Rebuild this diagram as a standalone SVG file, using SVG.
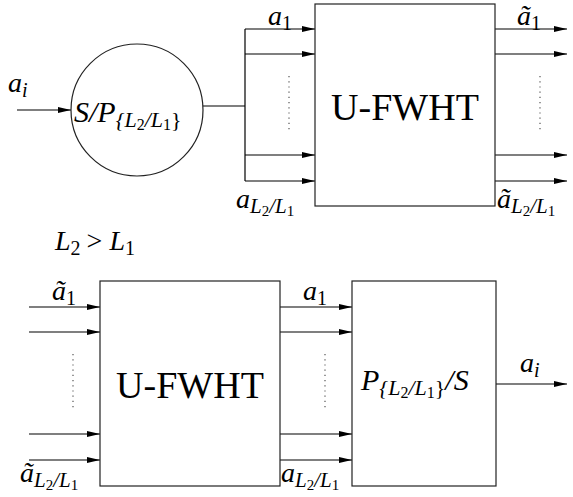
<svg xmlns="http://www.w3.org/2000/svg" width="573" height="497" viewBox="0 0 573 497">
<defs>
<marker id="ah" viewBox="0 0 13 6" refX="13" refY="3" markerWidth="13" markerHeight="6" markerUnits="userSpaceOnUse" orient="auto">
<path d="M0,0 L13,3 L0,6 z" fill="#000" stroke="none"/>
</marker>
</defs>
<g id="connectors" stroke="#000" stroke-width="1.2" fill="none">
<g id="arrows" marker-end="url(#ah)">
<line x1="17" y1="110" x2="71" y2="110"/>
<line x1="245" y1="29" x2="315" y2="29"/>
<line x1="245" y1="54" x2="315" y2="54"/>
<line x1="245" y1="155" x2="315" y2="155"/>
<line x1="245" y1="181" x2="315" y2="181"/>
<line x1="495" y1="29" x2="567" y2="29"/>
<line x1="495" y1="54" x2="567" y2="54"/>
<line x1="495" y1="155" x2="567" y2="155"/>
<line x1="495" y1="181" x2="567" y2="181"/>
<line x1="29" y1="307" x2="100" y2="307"/>
<line x1="29" y1="332" x2="100" y2="332"/>
<line x1="29" y1="434" x2="100" y2="434"/>
<line x1="29" y1="460" x2="100" y2="460"/>
<line x1="280" y1="307" x2="352" y2="307"/>
<line x1="280" y1="332" x2="352" y2="332"/>
<line x1="280" y1="434" x2="352" y2="434"/>
<line x1="280" y1="460" x2="352" y2="460"/>
<line x1="496" y1="384" x2="567" y2="384"/>
</g>
<g id="plain">
<line x1="203" y1="106" x2="245" y2="106"/>
<line x1="245" y1="29" x2="245" y2="181"/>
</g>
<g id="dots" stroke="#555" stroke-dasharray="1.2 4">
<line x1="289" y1="76" x2="289" y2="131"/>
<line x1="540" y1="76" x2="540" y2="131"/>
<line x1="73" y1="354" x2="73" y2="409"/>
<line x1="325" y1="354" x2="325" y2="409"/>
</g>
</g>
<g id="nodes" stroke="#222" stroke-width="1.2" fill="#fff">
<g id="sp">
<circle cx="137" cy="110" r="66"/>
<text stroke="none" fill="#000" font-family="'Liberation Serif', serif" font-style="italic" x="74" y="122" font-size="30">S/P<tspan font-size="22" dy="5">{L</tspan><tspan font-size="16" dy="3" font-style="normal">2</tspan><tspan font-size="22" dy="-3">/L</tspan><tspan font-size="16" dy="3" font-style="normal">1</tspan><tspan font-size="22" dy="-3" font-style="normal">}</tspan></text>
</g>
<g id="fwht1">
<rect x="315" y="4" width="180" height="202"/>
<text stroke="none" fill="#000" font-family="'Liberation Serif', serif" x="405" y="120" font-size="38" text-anchor="middle">U-FWHT</text>
</g>
<g id="fwht2">
<rect x="100" y="281" width="180" height="205"/>
<text stroke="none" fill="#000" font-family="'Liberation Serif', serif" x="190" y="398" font-size="38" text-anchor="middle">U-FWHT</text>
</g>
<g id="ps">
<rect x="352" y="281" width="144" height="205"/>
<text stroke="none" fill="#000" font-family="'Liberation Serif', serif" font-style="italic" x="361" y="390" font-size="30">P<tspan font-size="22" dy="5">{L</tspan><tspan font-size="16" dy="3" font-style="normal">2</tspan><tspan font-size="22" dy="-3">/L</tspan><tspan font-size="16" dy="3" font-style="normal">1</tspan><tspan font-size="22" dy="-3" font-style="normal">}</tspan><tspan dy="-5" font-size="30">/S</tspan></text>
</g>
</g>
<g id="labels" fill="#000" font-family="'Liberation Serif', serif" font-style="italic" font-size="28">
<text x="8" y="92">a<tspan font-size="20" dy="5">i</tspan></text>
<text x="268" y="25">a<tspan font-size="20" font-style="normal" dy="5">1</tspan></text>
<text x="517" y="25">ã<tspan font-size="20" font-style="normal" dy="5">1</tspan></text>
<text x="236" y="208">a<tspan font-size="21" dy="5">L</tspan><tspan font-size="15" font-style="normal" dy="3">2</tspan><tspan font-size="21" dy="-3">/L</tspan><tspan font-size="15" font-style="normal" dy="3">1</tspan></text>
<text x="497" y="208">ã<tspan font-size="21" dy="5">L</tspan><tspan font-size="15" font-style="normal" dy="3">2</tspan><tspan font-size="21" dy="-3">/L</tspan><tspan font-size="15" font-style="normal" dy="3">1</tspan></text>
<text x="55" y="250">L<tspan font-size="20" font-style="normal" dy="5">2</tspan><tspan font-style="normal" dy="-5" dx="6">&gt;</tspan><tspan dx="7">L</tspan><tspan font-size="20" font-style="normal" dy="5">1</tspan></text>
<text x="52" y="300">ã<tspan font-size="20" font-style="normal" dy="5">1</tspan></text>
<text x="20" y="482">ã<tspan font-size="21" dy="5">L</tspan><tspan font-size="15" font-style="normal" dy="3">2</tspan><tspan font-size="21" dy="-3">/L</tspan><tspan font-size="15" font-style="normal" dy="3">1</tspan></text>
<text x="303" y="300">a<tspan font-size="20" font-style="normal" dy="5">1</tspan></text>
<text x="281" y="482">a<tspan font-size="21" dy="5">L</tspan><tspan font-size="15" font-style="normal" dy="3">2</tspan><tspan font-size="21" dy="-3">/L</tspan><tspan font-size="15" font-style="normal" dy="3">1</tspan></text>
<text x="520" y="372">a<tspan font-size="20" dy="5">i</tspan></text>
</g>
</svg>
